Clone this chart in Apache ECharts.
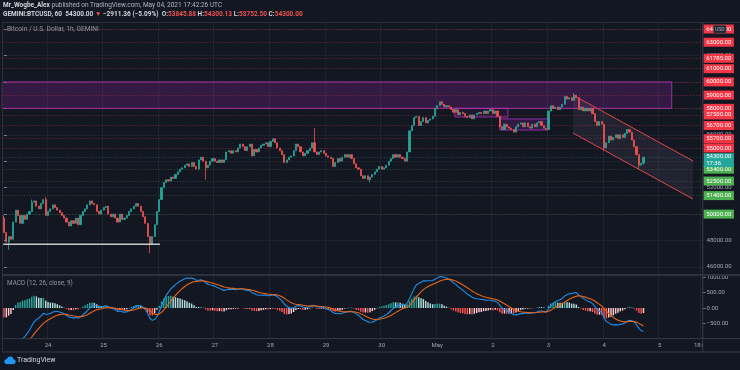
<!DOCTYPE html>
<html><head><meta charset="utf-8">
<script src="https://cdn.jsdelivr.net/npm/echarts@6/dist/echarts.min.js"></script>
<style>html,body{margin:0;padding:0;background:#131722}#c{width:740px;height:370px}</style>
</head><body><div id="c"></div>
<script>
// ---------- data ----------
const firstCandleUTC = [2021, 3, 23, 5];   // Apr 23 2021 05:00 UTC, hourly candles
const axisHours = 302;                      // hourly slots shown on the time axis
const firstOpen = 49700;
const closes = [
48600,47900,48300,48100,49400,50300,49900,49300,49900,49600,
50000,50200,50900,51000,50600,50400,50800,51100,49900,50200,
50400,50700,50500,50300,50100,49900,49700,49400,49100,49500,
49300,49700,49200,49900,50200,50400,50700,51000,50800,50700,
50200,50000,50300,50500,50600,50000,49800,50000,49700,49400,
50000,49600,49700,49900,50200,50400,50600,50800,50600,50200,
49800,49300,48300,47700,48300,49200,50200,51100,52000,52400,
52600,52500,52800,52700,53000,53200,53400,53500,53700,53800,
53600,53900,53600,53400,54100,54300,54000,53500,53700,54000,
54200,54000,53900,54100,53900,54100,54700,54800,54600,54800,
54700,55000,55300,55100,54800,55100,55300,54400,54900,54700,
55000,55200,55300,55400,55100,55500,55700,55400,55000,54800,
54500,53900,54100,54300,54400,54800,55300,55100,54700,54400,
54600,54800,55000,55400,54700,54500,54700,54800,54600,54400,
54300,54200,53600,53900,54200,54000,54300,54500,54300,54500,
54200,53800,53500,53400,52900,52700,52900,52600,52800,53000,
53200,53400,53600,53400,53500,53700,54000,54200,54500,54300,
54500,54300,54200,54000,54700,56300,56700,57300,57400,56700,
57000,57300,56900,57100,57200,57400,58000,58200,58500,58300,
58100,58200,58100,57900,57700,57900,57500,57700,57600,57400,
57300,57500,57200,57500,57600,57700,57600,57800,57600,57800,
57900,57600,57800,57400,56600,56400,56800,56600,56500,56400,
56200,56600,56800,56900,56600,56900,56600,56500,56800,56600,
56900,57000,56700,56500,56400,57800,58200,58000,58100,57900,
58100,58300,58900,58700,58800,58600,59000,58800,57900,58100,
57800,58000,57800,58000,57600,57000,56700,57000,56800,55000,
55400,55900,55600,55800,56000,55700,56000,55800,56100,56400,
56200,55600,55100,54500,53700,53845.88,54300
];
const wickHigh = {0: 49900, 12: 51100, 18: 51300, 134: 56500, 246: 59150, 276: 54300.13};
const wickLow  = {2: 47300, 63: 47050, 87: 52600, 158: 52400, 259: 54800, 274: 53400, 276: 53752.5};

const resistanceLevels = [64000, 63000, 61785, 61000, 60000, 59000, 58000, 57500, 56700, 55700, 55000];
const supportLevels = [53400, 52500, 51400, 50000];
const lastPrice = 54300;
const countdown = '17:36';

const priceTicks = [46000, 48000, 50000, 52000, 54000, 56000, 58000, 60000, 62000, 64000];
const macdTicks = [-500, 0, 500, 1000];
const timeTickDates = ['2021-04-24 00:00','2021-04-25 00:00','2021-04-26 00:00','2021-04-27 00:00',
  '2021-04-28 00:00','2021-04-29 00:00','2021-04-30 00:00','2021-05-01 00:00','2021-05-02 00:00',
  '2021-05-03 00:00','2021-05-04 00:00','2021-05-05 00:00','2021-05-05 18:00'];
const timeTickLabels = ['24','25','26','27','28','29','30','May','2','3','4','5','18:00'];

// drawings (hour index, price)
const horizontalRay = [[-0.3, 47720], [67.3, 47720]];
const supplyZone = [-0.8, 60000, 288.2, 58000];
const rangeBoxes = [[194.6, 58000, 217.5, 57345], [214.0, 57200, 234.8, 56360]];
const channelUpper = [[245.6, 59000], [297.4, 54020]];
const channelLower = [[245.6, 56130], [297.4, 51140]];

// MACD(12,26,close,9) state at the start of the window
const macdSeed = {ema12: 50500, ema26: 52000, signal: -1150};

// ---------- build ----------
const FONT = 'Roboto, "Liberation Sans", sans-serif';
function pad(n){return n<10?'0'+n:''+n;}
const t0 = Date.UTC(firstCandleUTC[0], firstCandleUTC[1], firstCandleUTC[2], firstCandleUTC[3]);
const categories = [];
for (let i = 0; i < axisHours; i++) {
  const d = new Date(t0 + i * 3600e3);
  categories.push(d.getUTCFullYear()+'-'+pad(d.getUTCMonth()+1)+'-'+pad(d.getUTCDate())+' '+pad(d.getUTCHours())+':00');
}
const tickMap = {};
timeTickDates.forEach((d, k) => tickMap[d] = timeTickLabels[k]);

const candles = closes.map((c, i) => {
  const o = i === 0 ? firstOpen : closes[i-1];
  let lo = Math.min(o, c), hi = Math.max(o, c);
  if (wickLow[i] != null) lo = wickLow[i];
  if (wickHigh[i] != null) hi = wickHigh[i];
  return [o, c, lo, hi];
});

let e12 = macdSeed.ema12, e26 = macdSeed.ema26, sig = macdSeed.signal;
const macd = [], signal = [], hist = [];
closes.forEach(c => {
  e12 += (c - e12) * 2 / 13;
  e26 += (c - e26) * 2 / 27;
  const m = e12 - e26;
  sig += (m - sig) * 2 / 10;
  macd.push(m); signal.push(sig); hist.push(m - sig);
});
const histData = hist.map((h, i) => {
  const p = i > 0 ? hist[i-1] : h;
  let col;
  if (h >= 0) col = h > p ? '#26a69a' : '#b2dfdb';
  else col = h > p ? '#ffcdd2' : '#ff5252';
  return {value: h, itemStyle: {color: col}};
});

const levelLines = [];
resistanceLevels.forEach(v => levelLines.push({
  yAxis: v, lineStyle: {color: 'rgba(242,54,69,0.45)'},
  label: {backgroundColor: '#f23645', formatter: v.toFixed(2)}
}));
supportLevels.forEach(v => levelLines.push({
  yAxis: v, lineStyle: {color: 'rgba(76,175,80,0.35)'},
  label: {backgroundColor: '#4caf50', formatter: v.toFixed(2)}
}));
levelLines.push({
  yAxis: lastPrice, lineStyle: {color: 'rgba(38,166,154,0.4)'},
  label: {backgroundColor: '#26a69a', formatter: lastPrice.toFixed(2) + '\n' + countdown,
          offset: [0, 2.9], lineHeight: 6.4, padding: [0.8, 2.6, 0.4, 2.6]}
});

const zoneRows = [supplyZone, rangeBoxes[0], rangeBoxes[1]];
const zoneStyles = [
  {fill: 'rgba(156,39,176,0.24)', stroke: 'rgba(170,50,190,0.85)', lineWidth: 1},
  {fill: 'rgba(156,39,176,0.10)', stroke: 'rgba(170,50,190,0.85)', lineWidth: 1},
  {fill: 'rgba(156,39,176,0.22)', stroke: 'rgba(170,50,190,0.85)', lineWidth: 1}
];

const GL = 2.84, GW = 699.7;
const BG = '#131722', BORDER = '#2a2e39', TXT = '#a3a6af';

const chart = echarts.init(document.getElementById('c'), null, {renderer: 'canvas'});
chart.setOption({
  backgroundColor: BG,
  animation: false,
  textStyle: {fontFamily: FONT},
  title: [
    {left: 3, top: 2, padding: 0,
     text: '{b|Mr_Wogbe_Alex} published on TradingView.com, May 04, 2021 17:42:26 UTC',
     textStyle: {fontSize: 6.5, color: '#b2b5be', fontWeight: 'normal', fontFamily: FONT,
       rich: {b: {fontSize: 6.5, color: '#d1d4dc', fontWeight: 'bold', fontFamily: FONT}}}},
    {left: 3, top: 11, padding: 0,
     text: '{w|GEMINI:BTCUSD, 60  54300.00} {r|▼} {w|−2911.36 (−5.09%)}  {w|O:}{r|53845.88} {w|H:}{r|54300.13} {w|L:}{r|53752.50} {w|C:}{r|54300.00}',
     textStyle: {fontSize: 6.5, color: '#d1d4dc', fontFamily: FONT,
       rich: {w: {fontSize: 6.5, color: '#d1d4dc', fontWeight: 'bold', fontFamily: FONT},
              r: {fontSize: 6.5, color: '#ef5350', fontFamily: FONT}}}},
    {left: 7, top: 25.5, padding: 0, text: 'Bitcoin / U.S. Dollar, 1h, GEMINI',
     textStyle: {fontSize: 6.6, color: '#9598a1', fontWeight: 'normal', fontFamily: FONT}},
    {left: 7, top: 280.5, padding: 0, text: 'MACD (12, 26, close, 9)',
     textStyle: {fontSize: 6.4, color: '#9598a1', fontWeight: 'normal', fontFamily: FONT}},
    {left: 17, top: 356.5, padding: 0, text: 'TradingView',
     textStyle: {fontSize: 7, color: '#d1d4dc', fontWeight: 'normal', fontFamily: FONT}}
  ],
  grid: [
    {left: GL, top: 22, width: GW, height: 252},
    {left: GL, top: 275.9, width: GW, height: 62.7}
  ],
  xAxis: [
    {type: 'category', gridIndex: 0, data: categories, boundaryGap: true, z: 0,
     axisLine: {show: false}, axisLabel: {show: false},
     axisTick: {show: false, alignWithLabel: true, interval: (i, v) => tickMap[v] != null},
     splitLine: {show: true, interval: (i, v) => tickMap[v] != null, lineStyle: {color: 'rgba(42,46,57,0.55)', width: 1}}},
    {type: 'value', gridIndex: 0, min: -0.5, max: axisHours - 0.5, show: false},
    {type: 'category', gridIndex: 1, data: categories, boundaryGap: true, z: 0,
     axisLine: {show: false},
     axisTick: {show: false, alignWithLabel: true, interval: (i, v) => tickMap[v] != null},
     axisLabel: {show: true, interval: (i, v) => tickMap[v] != null, formatter: v => tickMap[v] || '',
       color: TXT, fontSize: 6, margin: 4, fontFamily: FONT},
     splitLine: {show: true, interval: (i, v) => tickMap[v] != null, lineStyle: {color: 'rgba(42,46,57,0.55)', width: 1}}}
  ],
  yAxis: [
    {type: 'value', gridIndex: 0, position: 'right', min: 45470, max: 64530, z: 1.5,
     axisLine: {show: false},
     axisTick: {show: true, length: 3, customValues: priceTicks, lineStyle: {color: '#787b86'}},
     axisLabel: {show: true, customValues: priceTicks, formatter: v => v.toFixed(2), color: TXT,
       fontSize: 6, margin: 4, fontFamily: FONT},
     splitLine: {show: true, lineStyle: {color: 'rgba(42,46,57,0.45)', width: 1}}},
    {type: 'value', gridIndex: 1, position: 'right', min: -1000, max: 1050, z: 1.5,
     axisLine: {show: false},
     axisTick: {show: true, length: 3, customValues: macdTicks, lineStyle: {color: '#787b86'}},
     axisLabel: {show: true, customValues: macdTicks, formatter: v => v.toFixed(2).replace('-', '−'),
       color: TXT, fontSize: 6, margin: 4, fontFamily: FONT},
     splitLine: {show: true, lineStyle: {color: 'rgba(42,46,57,0.45)', width: 1, type: [1, 2]}}}
  ],
  graphic: [
    {type: 'rect', z: 1, silent: true, shape: {x: 703, y: 22, width: 37, height: 330}, style: {fill: BG}},
    {type: 'line', z: 6, silent: true, shape: {x1: 2, y1: 22.5, x2: 740, y2: 22.5}, style: {stroke: BORDER, lineWidth: 1}},
    {type: 'line', z: 6, silent: true, shape: {x1: 2.5, y1: 22, x2: 2.5, y2: 352}, style: {stroke: BORDER, lineWidth: 1}},
    {type: 'line', z: 6, silent: true, shape: {x1: 702.8, y1: 22, x2: 702.8, y2: 352}, style: {stroke: '#363a45', lineWidth: 1}},
    {type: 'line', z: 6, silent: true, shape: {x1: 2, y1: 275, x2: 740, y2: 275}, style: {stroke: '#2e323e', lineWidth: 2}},
    {type: 'line', z: 6, silent: true, shape: {x1: 2, y1: 338.6, x2: 740, y2: 338.6}, style: {stroke: '#363a45', lineWidth: 1}},
    {type: 'line', z: 6, silent: true, shape: {x1: 2, y1: 352, x2: 740, y2: 352}, style: {stroke: '#363a45', lineWidth: 1}},
    {type: 'group', z: 6, children: [
      {type: 'rect', z: 6, shape: {x: 713.5, y: 25.5, width: 12.5, height: 7.5, r: 1}, style: {fill: '#1e222d', stroke: '#4a4e59', lineWidth: 0.6}},
      {type: 'text', z: 7, style: {x: 719.75, y: 29.4, text: 'USD', fill: '#b2b5be', fontSize: 5, fontFamily: FONT, align: 'center', verticalAlign: 'middle'}}
    ]},
    {type: 'group', z: 6, children: [
      {type: 'circle', z: 6, shape: {cx: 7, cy: 361.5, r: 2.6}, style: {fill: '#2196f3'}},
      {type: 'circle', z: 6, shape: {cx: 10.2, cy: 359.8, r: 3.2}, style: {fill: '#2196f3'}},
      {type: 'circle', z: 6, shape: {cx: 13.3, cy: 361.7, r: 2.4}, style: {fill: '#2196f3'}},
      {type: 'rect', z: 6, shape: {x: 6.5, y: 361.5, width: 7, height: 2.6}, style: {fill: '#2196f3'}}
    ]}
  ],
  series: [
    {type: 'custom', name: 'zones', xAxisIndex: 1, yAxisIndex: 0, z: 2, silent: true, data: zoneRows,
     renderItem: (params, api) => {
       const a = api.coord([api.value(0), api.value(1)]);
       const b = api.coord([api.value(2), api.value(3)]);
       return {type: 'rect', shape: {x: a[0], y: a[1], width: b[0] - a[0], height: b[1] - a[1]},
               style: zoneStyles[params.dataIndex]};
     }},
    {type: 'custom', name: 'channelFill', xAxisIndex: 1, yAxisIndex: 0, z: 2, silent: true, data: [[channelUpper[0][0], channelUpper[0][1]]],
     renderItem: (params, api) => {
       const pts = [api.coord(channelUpper[0]), api.coord(channelUpper[1]), api.coord(channelLower[1]), api.coord(channelLower[0])];
       return {type: 'polygon', shape: {points: pts}, style: {fill: 'rgba(120,123,134,0.14)'}};
     }},
    {type: 'candlestick', name: 'BTCUSD', xAxisIndex: 0, yAxisIndex: 0, z: 3, clip: false, data: candles,
     barWidth: '70%',
     itemStyle: {color: '#26a69a', color0: '#ef5350', borderColor: '#26a69a', borderColor0: '#ef5350', borderWidth: 0.8},
     markLine: {symbol: ['none', 'none'], silent: true, animation: false, precision: 2,
       lineStyle: {type: [1, 2], width: 1},
       label: {show: true, position: 'end', distance: 1, color: '#ffffff', fontSize: 6, lineHeight: 7,
               padding: [1, 2.6, 1, 2.6], fontFamily: FONT},
       data: levelLines}},
    {type: 'line', name: 'ray', xAxisIndex: 1, yAxisIndex: 0, z: 4, silent: true, data: horizontalRay,
     showSymbol: false, symbol: 'none', lineStyle: {color: '#c9c9cc', width: 1.6}},
    {type: 'line', name: 'channelUpper', xAxisIndex: 1, yAxisIndex: 0, z: 4, silent: true, data: channelUpper,
     showSymbol: false, symbol: 'none', lineStyle: {color: '#e0454f', width: 1}},
    {type: 'line', name: 'channelLower', xAxisIndex: 1, yAxisIndex: 0, z: 4, silent: true, data: channelLower,
     showSymbol: false, symbol: 'none', lineStyle: {color: '#e0454f', width: 1}},
    {type: 'bar', name: 'hist', xAxisIndex: 2, yAxisIndex: 1, z: 3, data: histData, barWidth: '62%', silent: true},
    {type: 'line', name: 'macd', xAxisIndex: 2, yAxisIndex: 1, z: 4, data: macd, showSymbol: false, symbol: 'none',
     silent: true, lineStyle: {color: '#1f8fe6', width: 1.1}},
    {type: 'line', name: 'signal', xAxisIndex: 2, yAxisIndex: 1, z: 4, data: signal, showSymbol: false, symbol: 'none',
     silent: true, lineStyle: {color: '#e8661a', width: 1.1}}
  ]
});
</script>
</body></html>
